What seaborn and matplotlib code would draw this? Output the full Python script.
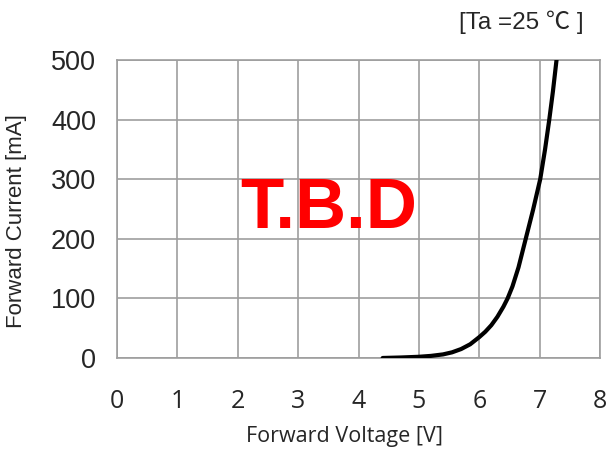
import pandas as pd
import seaborn as sns
import matplotlib.pyplot as plt

# Forward voltage / current curve
voltage = [4.4, 4.7, 5.0, 5.2, 5.4, 5.55, 5.7, 5.85, 6.0, 6.1, 6.2, 6.3, 6.4, 6.47,
           6.55, 6.65, 6.77, 6.89, 7.01, 7.09, 7.16, 7.22, 7.28]
current = [0, 0.8, 2, 3.5, 6, 9.5, 15, 23, 35, 44, 55, 69, 86, 100,
           120, 152, 200, 248, 300, 350, 400, 447, 500]
x_ticks = [0, 1, 2, 3, 4, 5, 6, 7, 8]
y_ticks = [0, 100, 200, 300, 400, 500]

df = pd.DataFrame({"Voltage": voltage, "Current": current})

sns.set_style("white")
plt.rcParams["font.family"] = ["Liberation Sans", "DejaVu Sans"]

fig = plt.figure(figsize=(6.11, 4.54), dpi=100)
ax = fig.add_axes([0.1915, 0.2115, 0.7905, 0.6565])

sns.lineplot(data=df, x="Voltage", y="Current", ax=ax, color="black",
             linewidth=3, sort=False, zorder=3)

ax.set_xlim(0, 8)
ax.set_ylim(0, 500)
ax.set_xticks(x_ticks)
ax.set_yticks(y_ticks)
ax.grid(True, color="#9e9e9e", linewidth=1.2)
for s in ax.spines.values():
    s.set_color("#9e9e9e")
    s.set_linewidth(1.2)
ax.tick_params(length=0)
ax.tick_params(axis="x", pad=22, labelsize=18)
ax.tick_params(axis="y", pad=15, labelsize=19.5)
for lab in ax.get_xticklabels():
    lab.set_fontfamily(["Open Sans", "DejaVu Sans"])

ax.set_xlabel("Forward Voltage [V]", fontsize=15.5, family=["Open Sans", "DejaVu Sans"])
ax.xaxis.set_label_coords(0.472, -0.228)
ax.set_ylabel("Forward Current [mA]", fontsize=16)
ax.yaxis.set_label_coords(-0.186, 0.46)

ax.text(3.5, 249, "T.B.D", color="#ff0000", fontsize=51, fontweight="bold",
        ha="center", va="center", zorder=4)
fig.text(0.955, 0.95, "[Ta =25 \u2103 ]", ha="right", va="center", fontsize=17.5,
         family=["Liberation Sans", "Noto Sans CJK JP"])

fig.savefig("out.png", dpi=100)
